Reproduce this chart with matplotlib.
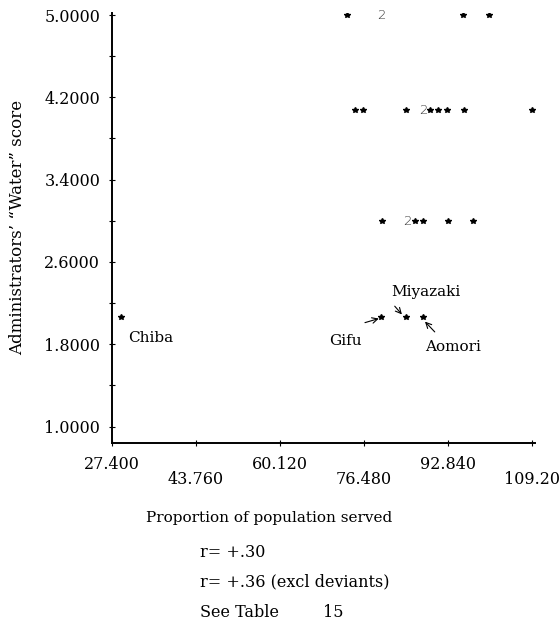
import numpy as np
import matplotlib.pyplot as plt

plt.rcParams['font.family'] = ['DejaVu Serif']

# DATA
star_x = [73.2, 95.8, 100.8,
          74.7, 76.3, 84.7, 89.3, 90.9, 92.7, 96.0, 109.2,
          80.0, 86.4, 88.0, 92.9, 97.7,
          29.2, 79.8, 84.7, 88.0]
star_y = [5.0, 5.0, 5.0,
          4.08, 4.08, 4.08, 4.08, 4.08, 4.08, 4.08, 4.08,
          3.0, 3.0, 3.0, 3.0, 3.0,
          2.06, 2.06, 2.06, 2.06]
# overlapping points shown as "2"
dup_x = [79.8, 88.0, 84.9]
dup_y = [5.0, 4.08, 3.0]

xticks = [27.4, 43.76, 60.12, 76.48, 92.84, 109.2]
xlabels = ['27.400', '43.760', '60.120', '76.480', '92.840', '109.20']
yticks = [1.0, 1.8, 2.6, 3.4, 4.2, 5.0]

# labelled deviants: name, text pos, arrow tail, arrow head
names = ['Chiba', 'Gifu', 'Miyazaki', 'Aomori']
name_pos = [(30.5, 1.86), (72.8, 1.83), (88.6, 2.31), (93.8, 1.77)]
arrows = [None, ((76.7, 2.01), (79.4, 2.05)),
          ((82.5, 2.17), (83.9, 2.09)),
          ((90.3, 1.92), (88.4, 2.02))]

fig = plt.figure(figsize=(5.6, 6.26), dpi=100)
ax = fig.add_axes([0.2, 0.2923, 0.755, 0.687])

ax.plot(star_x, star_y, '*', color='black', markersize=4)
for x, y in zip(dup_x, dup_y):
    ax.text(x, y, '2', ha='center', va='center', fontsize=9.5,
            family='DejaVu Sans', color='#333333', fontweight='light')

for name, (tx, ty), arr in zip(names, name_pos, arrows):
    ha = 'left' if name == 'Chiba' else 'center'
    ax.text(tx, ty, name, ha=ha, va='center', fontsize=11)
    if arr:
        ax.annotate('', xy=arr[1], xytext=arr[0],
                    arrowprops=dict(arrowstyle='->', lw=0.8, color='black',
                                    shrinkA=0, shrinkB=0))

ax.set_xlim(27.4, 109.8)
ax.set_ylim(0.84, 5.02)
for s in ['top', 'right']:
    ax.spines[s].set_visible(False)
ax.spines['left'].set_linewidth(1.4)
ax.spines['bottom'].set_linewidth(1.4)

ax.set_yticks(yticks)
ax.set_yticklabels([f'{v:.4f}' for v in yticks])
ax.set_yticks(np.array(yticks[:-1]) + 0.4, minor=True)
ax.tick_params(axis='y', which='both', direction='inout', length=5, width=0.8,
               labelsize=11.5, pad=6)

ax.set_xticks(xticks)
ax.set_xticklabels([])
ax.tick_params(axis='x', which='both', direction='inout', length=4, width=0.8)
for i, (v, lab) in enumerate(zip(xticks, xlabels)):
    ax.text(v, -0.03 - 0.035 * (i % 2), lab, transform=ax.get_xaxis_transform(),
            ha='center', va='top', fontsize=11.5)

fig.text(0.032, 0.637, 'Administrators\u2019 \u201cWater\u201d score', rotation=90,
         ha='center', va='center', fontsize=12)

fig.text(0.26, 0.173, 'Proportion of population served', ha='left', va='center', fontsize=11)
fig.text(0.357, 0.118, 'r= +.30', ha='left', va='center', fontsize=11.5)
fig.text(0.357, 0.070, 'r= +.36 (excl deviants)', ha='left', va='center', fontsize=11.5)
fig.text(0.357, 0.021, 'See Table', ha='left', va='center', fontsize=11.5)
fig.text(0.577, 0.021, '15', ha='left', va='center', fontsize=11.5)

fig.savefig('out.png', dpi=100)
